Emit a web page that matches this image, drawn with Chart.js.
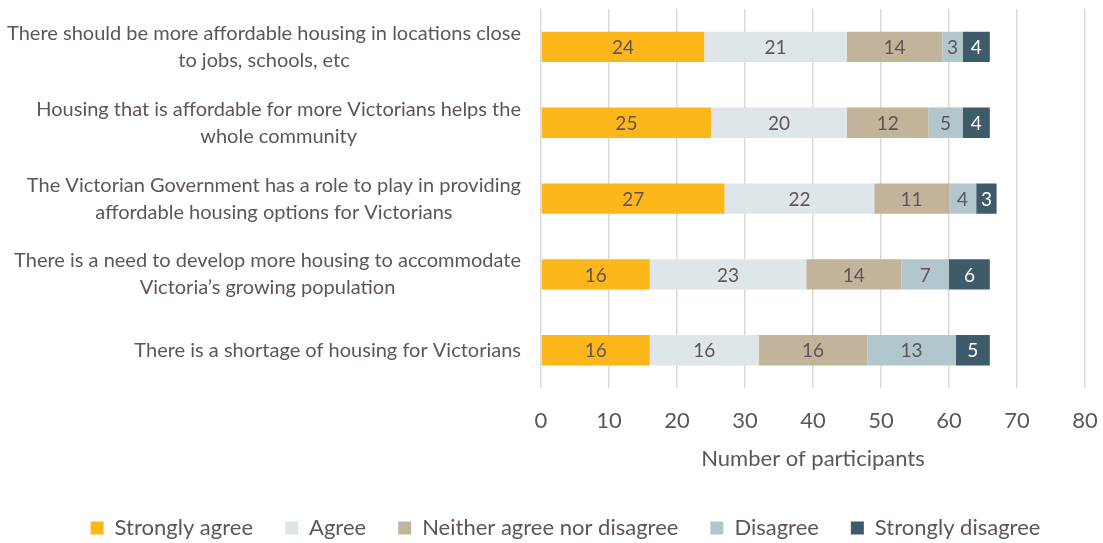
<!DOCTYPE html>
<html>
<head>
<meta charset="utf-8">
<script src="https://cdn.jsdelivr.net/npm/chart.js@4"></script>
<style>
  html, body { margin: 0; padding: 0; background: #fff; }
  #wrap { width: 1103px; height: 543px; }
</style>
</head>
<body>
<div id="wrap"><canvas id="survey-chart"></canvas></div>
<script>
(function() {
    'use strict';

    var statements = [
        [ 'There should be more affordable housing in locations close', 'to jobs, schools, etc' ],
        [ 'Housing that is affordable for more Victorians helps the', 'whole community' ],
        [ 'The Victorian Government has a role to play in providing', 'affordable housing options for Victorians' ],
        [ 'There is a need to develop more housing to accommodate', 'Victoria\u2019s growing population' ],
        [ 'There is a shortage of housing for Victorians' ]
    ];
    var stronglyAgree = [ 24, 25, 27, 16, 16 ];
    var agree = [ 21, 20, 22, 23, 16 ];
    var neither = [ 14, 12, 11, 14, 16 ];
    var disagree = [ 3, 5, 4, 7, 13 ];
    var stronglyDisagree = [ 4, 4, 3, 6, 5 ];
    var xTicks = [ 0, 10, 20, 30, 40, 50, 60, 70, 80 ];

    var FONT = 'Lato, "Open Sans", sans-serif';
    var TEXT = '#5f5458';

    // statement labels: block right-aligned, lines centred within block
    var statementLabels = {
        id: 'statementLabels',
        afterLayout: function( chart ) {
            // nudge legend to the right like the original
            chart.legend.left += 14;
            chart.legend.right += 14;
        },
        afterDraw: function( chart ) {
            var ctx = chart.ctx, y = chart.scales.y, right = chart.chartArea.left - 20;
            ctx.save();
            ctx.font = '20px ' + FONT;
            ctx.fillStyle = TEXT;
            ctx.textAlign = 'center';
            ctx.textBaseline = 'middle';
            statements.forEach( function( lines, i ) {
                var w = 0;
                lines.forEach( function( l ) { w = Math.max( w, ctx.measureText( l ).width ); } );
                var cy = y.getPixelForValue( i ), lh = 27;
                var top = cy - ( lines.length - 1 ) * lh / 2;
                lines.forEach( function( l, k ) {
                    ctx.fillText( l, right - w / 2, top + k * lh );
                } );
            } );
            ctx.restore();
        }
    };

    // value labels in the middle of each segment
    var valueLabels = {
        id: 'valueLabels',
        afterDatasetsDraw: function( chart ) {
            var ctx = chart.ctx;
            ctx.save();
            ctx.font = '19px ' + FONT;
            ctx.textAlign = 'center';
            ctx.textBaseline = 'middle';
            chart.data.datasets.forEach( function( ds, di ) {
                var meta = chart.getDatasetMeta( di );
                meta.data.forEach( function( bar, i ) {
                    ctx.fillStyle = di === 4 ? '#ffffff' : TEXT;
                    ctx.fillText( String( ds.data[ i ] ), ( bar.x + bar.base ) / 2, bar.y + 1 );
                } );
            } );
            ctx.restore();
        }
    };

    var ctx = document.getElementById( 'survey-chart' ).getContext( '2d' );
    new Chart( ctx, {
        type: 'bar',
        data: {
            labels: statements,
            datasets: [
                { label: 'Strongly agree', data: stronglyAgree, backgroundColor: '#fdb71a' },
                { label: 'Agree', data: agree, backgroundColor: '#dfe6e9' },
                { label: 'Neither agree nor disagree', data: neither, backgroundColor: '#c2b49b' },
                { label: 'Disagree', data: disagree, backgroundColor: '#b2c6cd' },
                { label: 'Strongly disagree', data: stronglyDisagree, backgroundColor: '#3e5b69' }
            ]
        },
        options: {
            indexAxis: 'y',
            responsive: true,
            maintainAspectRatio: false,
            animation: false,
            layout: { padding: { left: 0, right: 0, top: 9, bottom: -6 } },
            datasets: { bar: { categoryPercentage: 1, barPercentage: 0.4 } },
            scales: {
                x: {
                    stacked: true,
                    min: 0,
                    max: 80,
                    afterBuildTicks: function( axis ) {
                        axis.ticks = xTicks.map( function( v ) { return { value: v }; } );
                    },
                    afterFit: function( scale ) { scale.paddingRight = 18; },
                    grid: { color: '#d9d9d9', lineWidth: 1.5, drawTicks: false },
                    border: { display: false },
                    ticks: { color: TEXT, font: { family: FONT, size: 22 }, padding: 20 },
                    title: {
                        display: true,
                        text: 'Number of participants',
                        color: TEXT,
                        font: { family: FONT, size: 22 },
                        padding: { top: -9, bottom: 13 }
                    }
                },
                y: {
                    stacked: true,
                    grid: { display: false },
                    border: { display: false },
                    ticks: { display: false },
                    afterFit: function( scale ) { scale.width = 541; }
                }
            },
            plugins: {
                legend: {
                    position: 'bottom',
                    labels: {
                        color: TEXT,
                        font: { family: FONT, size: 22 },
                        boxWidth: 13,
                        boxHeight: 13,
                        padding: 32
                    }
                },
                tooltip: { enabled: false }
            }
        },
        plugins: [ statementLabels, valueLabels ]
    } );
})();
</script>
</body>
</html>
